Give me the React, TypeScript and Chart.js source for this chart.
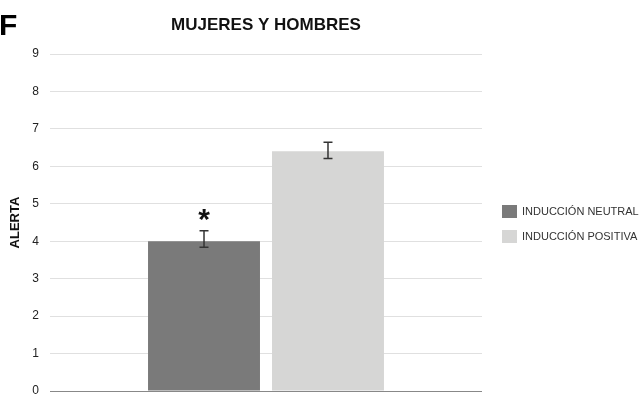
import React, { useEffect, useRef } from "react";
import { Chart, registerables } from "chart.js";

Chart.register(...registerables);

const categories = [""];
const seriesLabels = ["INDUCCIÓN NEUTRAL", "INDUCCIÓN POSITIVA"];
const neutralValues = [4.0];
const positiveValues = [6.4];
const neutralErrLow = [3.84];
const neutralErrHigh = [4.28];
const positiveErrLow = [6.21];
const positiveErrHigh = [6.64];
const neutralMarks = ["*"];
const positiveMarks = [""];
const yTickValues = [0, 1, 2, 3, 4, 5, 6, 7, 8, 9];
const chartTitle = "MUJERES Y HOMBRES";
const yAxisTitle = "ALERTA";
const panelLetter = "F";

const FONT = "'Liberation Sans', Arial, Helvetica, sans-serif";

const errorBarPlugin = {
  id: "errorBars",
  afterDatasetsDraw(chart: any) {
    const ctx = chart.ctx;
    const yScale = chart.scales.y;
    chart.data.datasets.forEach((ds: any, i: number) => {
      const meta = chart.getDatasetMeta(i);
      meta.data.forEach((bar: any, j: number) => {
        const lo = ds.errLow[j];
        const hi = ds.errHigh[j];
        const x = bar.x;
        const yLo = yScale.getPixelForValue(lo);
        const yHi = yScale.getPixelForValue(hi);
        const cap = 4.5;
        ctx.save();
        ctx.strokeStyle = "#333333";
        ctx.lineWidth = 1.5;
        ctx.beginPath();
        ctx.moveTo(x, yLo);
        ctx.lineTo(x, yHi);
        ctx.moveTo(x - cap, yHi);
        ctx.lineTo(x + cap, yHi);
        ctx.moveTo(x - cap, yLo);
        ctx.lineTo(x + cap, yLo);
        ctx.stroke();
        const mark = ds.marks[j];
        if (mark) {
          ctx.font = `bold 30px ${FONT}`;
          ctx.fillStyle = "#111111";
          ctx.textAlign = "center";
          ctx.textBaseline = "alphabetic";
          const m = ctx.measureText(mark);
          const cy = yHi - 16;
          const base = cy + (m.actualBoundingBoxAscent - m.actualBoundingBoxDescent) / 2;
          ctx.fillText(mark, x, base);
        }
        ctx.restore();
      });
    });
  },
};

const legendPlugin = {
  id: "sideLegend",
  afterDraw(chart: any) {
    const ctx = chart.ctx;
    const left = chart.chartArea.right + 20;
    const top0 = 205;
    const step = 25;
    ctx.save();
    chart.data.datasets.forEach((ds: any, i: number) => {
      const y = top0 + i * step;
      ctx.fillStyle = ds.backgroundColor;
      ctx.fillRect(left, y, 15, 13);
      ctx.font = `11px ${FONT}`;
      ctx.fillStyle = "#333333";
      ctx.textAlign = "left";
      ctx.textBaseline = "middle";
      ctx.fillText(ds.label, left + 20, y + 7);
    });
    ctx.restore();
  },
};

const textPlugin = {
  id: "panelTexts",
  afterDraw(chart: any) {
    const ctx = chart.ctx;
    const area = chart.chartArea;
    ctx.save();
    ctx.font = `bold 30px ${FONT}`;
    ctx.fillStyle = "#000000";
    ctx.textAlign = "left";
    ctx.textBaseline = "alphabetic";
    ctx.fillText(panelLetter, -1, 35);
    ctx.font = `bold 17px ${FONT}`;
    ctx.fillStyle = "#111111";
    ctx.textAlign = "center";
    ctx.fillText(chartTitle, (area.left + area.right) / 2, 30);
    ctx.restore();
  },
};

export default function App() {
  const canvasRef = useRef<HTMLCanvasElement | null>(null);

  useEffect(() => {
    if (!canvasRef.current) return;
    const chart = new Chart(canvasRef.current, {
      type: "bar",
      data: {
        labels: categories,
        datasets: [
          {
            label: seriesLabels[0],
            data: neutralValues,
            backgroundColor: "#7a7a7a",
            errLow: neutralErrLow,
            errHigh: neutralErrHigh,
            marks: neutralMarks,
          } as any,
          {
            label: seriesLabels[1],
            data: positiveValues,
            backgroundColor: "#d6d6d5",
            errLow: positiveErrLow,
            errHigh: positiveErrHigh,
            marks: positiveMarks,
          } as any,
        ],
      },
      options: {
        animation: false,
        responsive: true,
        maintainAspectRatio: false,
        layout: { padding: { left: 0, right: 160, top: 54, bottom: 8 } },
        datasets: {
          bar: { categoryPercentage: 0.574, barPercentage: 0.903 },
        },
        plugins: {
          legend: { display: false },
          tooltip: { enabled: false },
          title: { display: false },
        },
        scales: {
          x: {
            display: false,
            grid: { display: false },
          },
          y: {
            min: 0,
            max: 9,
            afterFit: (s: any) => {
              s.width = 50;
              s.paddingTop = 0;
              s.paddingBottom = 0;
            },
            afterBuildTicks: (s: any) => {
              s.ticks = yTickValues.map((v) => ({ value: v }));
            },
            border: { display: false },
            grid: {
              drawTicks: false,
              color: (c: any) => (c.tick && c.tick.value === 0 ? "#888888" : "#e0e0e0"),
              lineWidth: 1,
            },
            ticks: {
              padding: 11,
              color: "#222222",
              font: { family: FONT, size: 12 },
            },
            title: {
              display: true,
              text: yAxisTitle,
              color: "#111111",
              font: { family: FONT, size: 13, weight: "bold" },
              padding: { top: 8, bottom: 0 },
            },
          },
        },
      },
      plugins: [errorBarPlugin, legendPlugin, textPlugin],
    });
    return () => chart.destroy();
  }, []);

  return (
    <div style={{ position: "fixed", left: 0, top: 0, width: 642, height: 399, background: "#ffffff" }}>
      <canvas ref={canvasRef} />
    </div>
  );
}
